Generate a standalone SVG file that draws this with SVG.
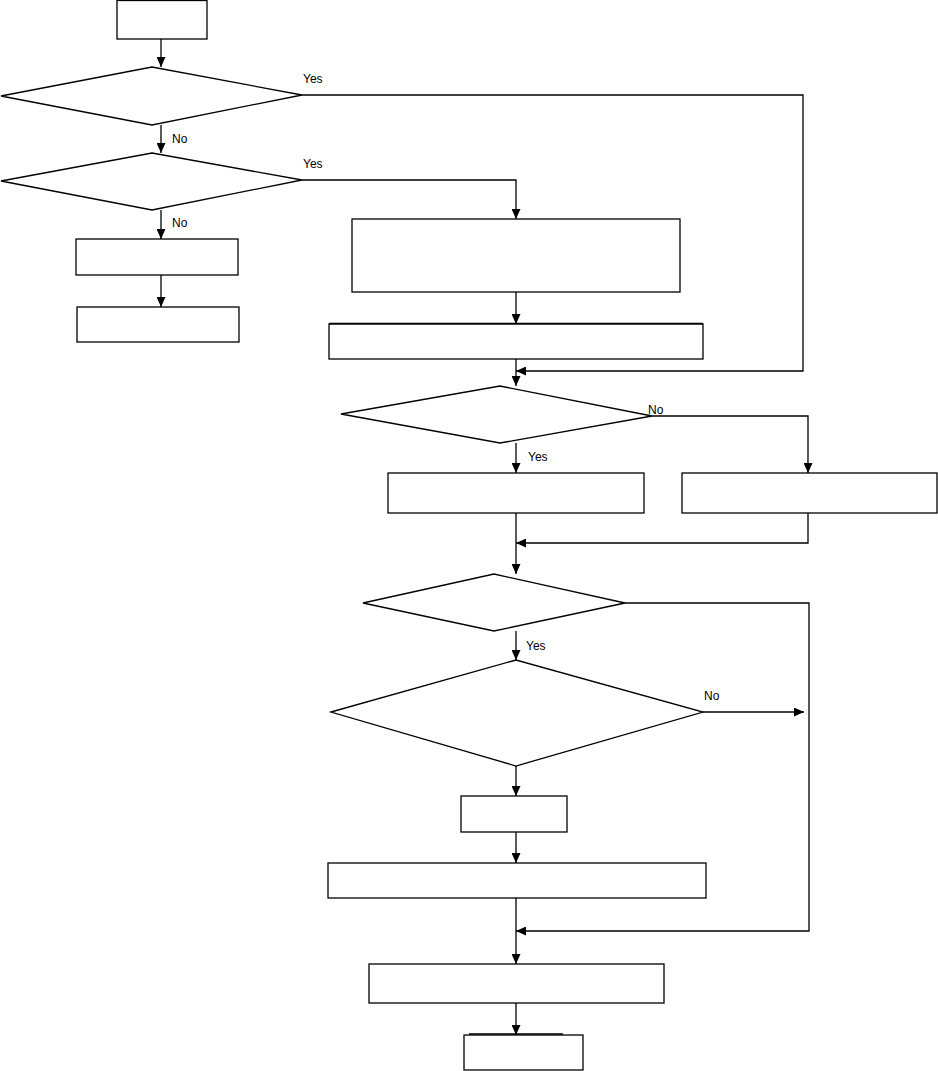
<svg xmlns="http://www.w3.org/2000/svg" width="938" height="1071" viewBox="0 0 938 1071">
<style>
.n{fill:#fff;stroke:#000;stroke-width:1.3}
.c{fill:none;stroke:#000;stroke-width:1.3}
.t{font-family:"Liberation Sans",Arial,sans-serif;font-size:12px;fill:#000}
</style>
<defs>
<marker id="ah" viewBox="0 0 10 9" refX="10" refY="4.5" markerWidth="10" markerHeight="9" markerUnits="userSpaceOnUse" orient="auto">
<path d="M0,0 L10,4.5 L0,9 z" fill="#000"/>
</marker>
</defs>
<rect width="938" height="1071" fill="#fff"/>
<g id="connectors">
<path class="c" d="M161,39 V67" marker-end="url(#ah)"/>
<path class="c" d="M161,125 V153" marker-end="url(#ah)"/>
<path class="c" d="M161,210 V239" marker-end="url(#ah)"/>
<path class="c" d="M161,275 V307" marker-end="url(#ah)"/>
<path class="c" d="M302,95 H803 V371 H516" marker-end="url(#ah)"/>
<path class="c" d="M302,180 H516 V219" marker-end="url(#ah)"/>
<path class="c" d="M516,292 V324" marker-end="url(#ah)"/>
<path class="c" d="M516,359 V386" marker-end="url(#ah)"/>
<path class="c" d="M652,416 H808 V473" marker-end="url(#ah)"/>
<path class="c" d="M516,443 V473" marker-end="url(#ah)"/>
<path class="c" d="M516,513 V574" marker-end="url(#ah)"/>
<path class="c" d="M808,513 V543 H516" marker-end="url(#ah)"/>
<path class="c" d="M625,603 H809 V931 H516" marker-end="url(#ah)"/>
<path class="c" d="M516,631 V660" marker-end="url(#ah)"/>
<path class="c" d="M703,712 H804" marker-end="url(#ah)"/>
<path class="c" d="M516,766 V796" marker-end="url(#ah)"/>
<path class="c" d="M516,832 V863" marker-end="url(#ah)"/>
<path class="c" d="M516,898 V964" marker-end="url(#ah)"/>
<path class="c" d="M516,1003 V1035" marker-end="url(#ah)"/>
</g>
<g id="labels">
<text class="t" x="303" y="83">Yes</text>
<text class="t" x="172" y="143">No</text>
<text class="t" x="303" y="168">Yes</text>
<text class="t" x="172" y="227">No</text>
<text class="t" x="648" y="414">No</text>
<text class="t" x="528" y="461">Yes</text>
<text class="t" x="526" y="650">Yes</text>
<text class="t" x="704" y="700">No</text>
</g>
<g id="start"><rect class="n" x="117" y="0.5" width="90" height="38.5"/></g>
<g id="d1"><polygon class="n" points="1,96 152,67 302,95 152,125"/></g>
<g id="d2"><polygon class="n" points="1,181 152,153 302,180 152,210"/></g>
<g id="boxC"><rect class="n" x="76" y="239" width="162" height="36"/></g>
<g id="boxD"><rect class="n" x="77" y="307" width="162" height="35"/></g>
<g id="boxA"><rect class="n" x="352" y="219" width="328" height="73"/></g>
<g id="boxB"><rect class="n" x="329" y="324" width="374" height="35"/><path class="c" d="M329,323.5 H703"/></g>
<g id="d3"><polygon class="n" points="341,414 500,386 652,416 500,443"/></g>
<g id="boxE"><rect class="n" x="388" y="473" width="256" height="40"/></g>
<g id="boxF"><rect class="n" x="682" y="473" width="255" height="40"/></g>
<g id="d4"><polygon class="n" points="363,603 494,574 625,603 494,631"/></g>
<g id="d5"><polygon class="n" points="331,712 516,660 703,712 516,766"/></g>
<g id="boxG"><rect class="n" x="461" y="796" width="106" height="36"/></g>
<g id="boxH"><rect class="n" x="328" y="863" width="378" height="35"/></g>
<g id="boxI"><rect class="n" x="369" y="964" width="295" height="39"/></g>
<g id="end"><rect class="n" x="464" y="1035" width="119" height="35"/><path class="c" d="M469,1034 H563"/></g>
</svg>
